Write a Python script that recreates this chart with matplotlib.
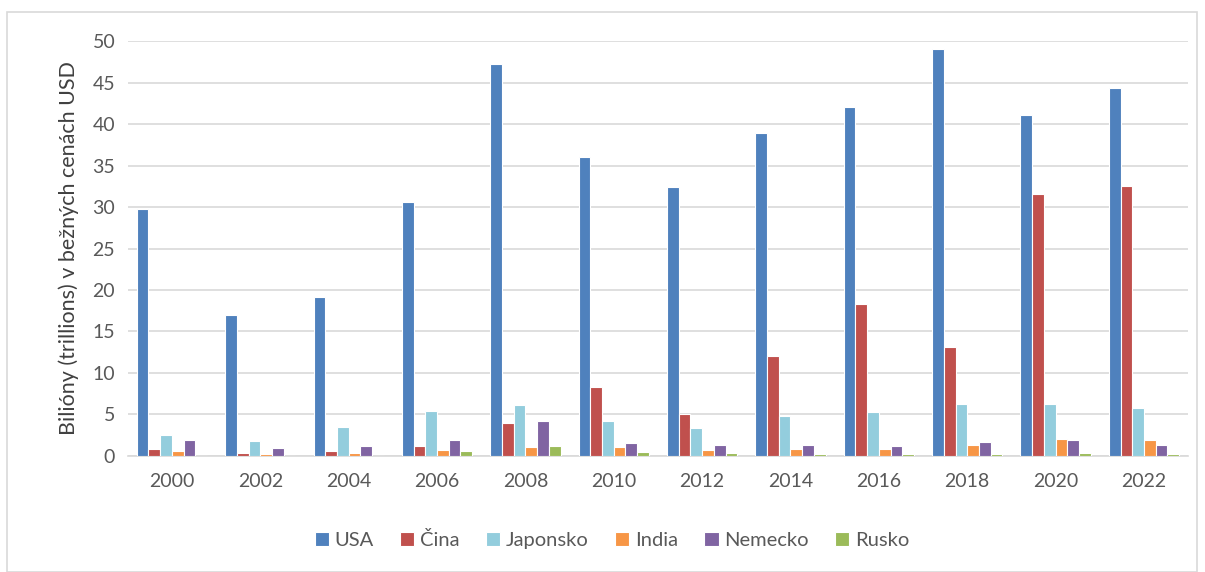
import matplotlib
matplotlib.use("Agg")
import matplotlib.pyplot as plt
import numpy as np
from matplotlib.patches import Rectangle

years = ["2000", "2002", "2004", "2006", "2008", "2010", "2012", "2014", "2016", "2018", "2020", "2022"]
series_names = ["USA", "Čina", "Japonsko", "India", "Nemecko", "Rusko"]
usa = [29.8, 17.0, 19.1, 30.6, 47.3, 36.0, 32.4, 38.9, 42.1, 49.1, 41.1, 44.3]
cina = [0.79, 0.36, 0.6, 1.19, 3.93, 8.3, 5.04, 12.0, 18.3, 13.1, 31.6, 32.5]
japonsko = [2.46, 1.75, 3.45, 5.44, 6.19, 4.25, 3.33, 4.8, 5.24, 6.3, 6.3, 5.8]
india = [0.56, 0.24, 0.4, 0.71, 1.07, 1.07, 0.67, 0.79, 0.83, 1.31, 1.98, 1.9]
nemecko = [1.87, 0.91, 1.19, 1.94, 4.17, 1.51, 1.31, 1.31, 1.15, 1.67, 1.87, 1.31]
rusko = [0.01, 0.01, 0.01, 0.6, 1.19, 0.52, 0.36, 0.24, 0.2, 0.2, 0.36, 0.24]
colors = ["#4F81BD", "#C0504D", "#93CDDD", "#F79646", "#8064A2", "#9BBB59"]

plt.rcParams['font.family'] = ['Lato', 'DejaVu Sans']

fig = plt.figure(figsize=(12.05, 5.72), dpi=100)
ax = fig.add_axes([0.106, 0.203, 0.880, 0.725])

data = [usa, cina, japonsko, india, nemecko, rusko]
x = np.arange(len(years))
w = 0.1325
for i, (name, vals, c) in enumerate(zip(series_names, data, colors)):
    ax.bar(x + (i - 2.5) * w, vals, width=w, color=c, edgecolor="white",
           linewidth=0.8, label=name, zorder=3)

ax.set_xlim(-0.5, len(years) - 0.5)
ax.set_ylim(0, 50)
ax.set_yticks(np.arange(0, 51, 5))
ax.set_xticks(x)
ax.set_xticklabels(years)
ax.yaxis.grid(True, color="#D9D9D9", linewidth=1.2, zorder=0)
for s in ["top", "right", "left"]:
    ax.spines[s].set_visible(False)
ax.spines["bottom"].set_color("#D9D9D9")
ax.spines["bottom"].set_linewidth(1.2)
ax.tick_params(axis="both", length=0, labelsize=14, colors="#595959", pad=9)
ax.tick_params(axis="x", pad=12)
ax.set_ylabel("Bilióny (trillions) v bežných cenách USD", fontsize=15.5, color="#404040", labelpad=10)

leg = fig.legend(loc="center", bbox_to_anchor=(0.508, 0.056), ncol=6, frameon=False,
                 fontsize=14.5, handlelength=0.7, handleheight=0.7, handletextpad=0.3,
                 columnspacing=1.3)
for t in leg.get_texts():
    t.set_color("#595959")

fig.patches.append(Rectangle((7 / 1205, 0.0), 1190 / 1205, 1 - 12 / 572,
                             transform=fig.transFigure, fill=False,
                             edgecolor="#D9D9D9", linewidth=1.2))

fig.savefig("out.png", dpi=100, facecolor="white")
